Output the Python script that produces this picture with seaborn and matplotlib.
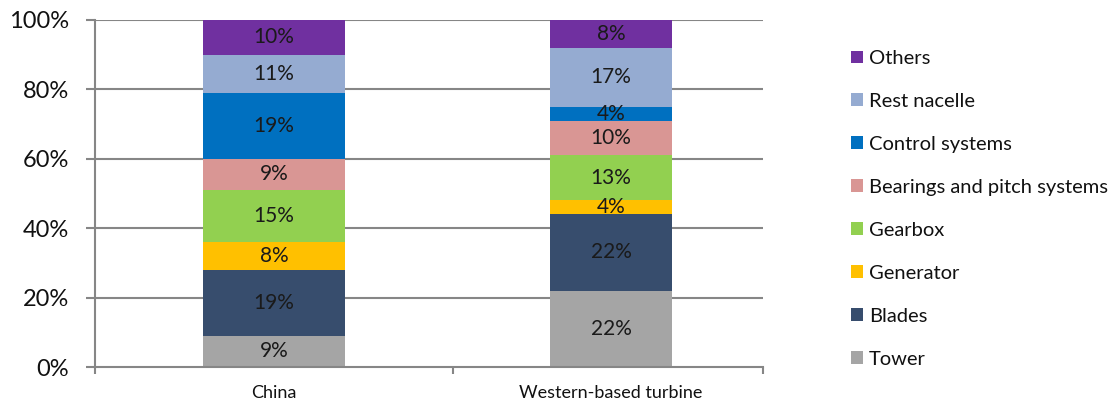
import matplotlib
matplotlib.use("Agg")
import matplotlib.pyplot as plt
from matplotlib.patches import Patch
from matplotlib.ticker import FuncFormatter
import pandas as pd
import seaborn as sns

# Cost share of wind turbine components (%), bottom to top of each stack
turbines = ["China", "Western-based turbine"]
components = ["Tower", "Blades", "Generator", "Gearbox",
              "Bearings and pitch systems", "Control systems",
              "Rest nacelle", "Others"]
china = [9, 19, 8, 15, 9, 19, 11, 10]
western = [22, 22, 4, 13, 10, 4, 17, 8]

colors = {
    "Tower": "#A5A5A5",
    "Blades": "#374D6D",
    "Generator": "#FFC000",
    "Gearbox": "#92D050",
    "Bearings and pitch systems": "#D99694",
    "Control systems": "#0070C0",
    "Rest nacelle": "#95ABD1",
    "Others": "#7030A0",
}
bar_widths = {"China": 0.42, "Western-based turbine": 0.362}

sns.set_theme(style="white")
plt.rcParams["font.family"] = ["Lato", "DejaVu Sans"]

shares = pd.DataFrame({"China": china, "Western-based turbine": western},
                      index=components)
tops = shares.cumsum()

fig = plt.figure(figsize=(11.15, 4.08), dpi=100)
ax = fig.add_axes([95 / 1115, 1 - 367 / 408, 668 / 1115, 347 / 408])

grid_col = "#868686"
for y in range(20, 101, 20):
    ax.axhline(y, color=grid_col, lw=1.5, zorder=0)

# Stack by drawing cumulative bars from the tallest (top segment) down
for t in turbines:
    for comp in components[::-1]:
        df = pd.DataFrame({"turbine": [t], "top": [tops.loc[comp, t]]})
        sns.barplot(data=df, x="turbine", y="top", color=colors[comp],
                    width=bar_widths[t], saturation=1, ax=ax, zorder=2,
                    linewidth=0, order=turbines)

# Segment value labels
for i, t in enumerate(turbines):
    for comp in components:
        v = shares.loc[comp, t]
        mid = tops.loc[comp, t] - v / 2
        ax.text(i, mid, f"{v}%", ha="center", va="center",
                fontsize=15, color="#1a1a1a", zorder=3)

ax.set_ylim(0, 100)
ax.set_xlim(-0.531, 1.451)
ax.set_yticks(range(0, 101, 20))
ax.yaxis.set_major_formatter(FuncFormatter(lambda v, p: f"{int(v)}%"))
ax.tick_params(axis="y", which="major", left=True, length=6.5, width=1.5,
               color=grid_col, pad=12, labelsize=17, labelcolor="#111111")

# Category boundaries as tick marks, category names as minor ticks
ax.set_xticks([-0.531, 0.53, 1.451])
ax.set_xticklabels([])
ax.set_xticks([0, 1], minor=True)
ax.set_xticklabels(turbines, minor=True)
ax.tick_params(axis="x", which="major", bottom=True, length=5, width=1.5,
               color=grid_col, direction="out")
ax.tick_params(axis="x", which="minor", bottom=False, length=0, pad=13,
               labelsize=13, labelcolor="#111111")
ax.set_xlabel("")
ax.set_ylabel("")

for side in ["top", "right"]:
    ax.spines[side].set_visible(False)
for side in ["left", "bottom"]:
    ax.spines[side].set_color(grid_col)
    ax.spines[side].set_linewidth(1.5)
    ax.spines[side].set_zorder(4)

handles = [Patch(facecolor=colors[c], edgecolor="none", label=c)
           for c in components[::-1]]
fig.legend(handles=handles, loc="upper left",
           bbox_to_anchor=(851 / 1115, 1 - 50 / 408),
           frameon=False, fontsize=14.5, handlelength=0.6, handleheight=0.6,
           handletextpad=0.3, labelspacing=1.29, borderaxespad=0,
           borderpad=0, labelcolor="#111111")

fig.savefig("out.png", dpi=100)
